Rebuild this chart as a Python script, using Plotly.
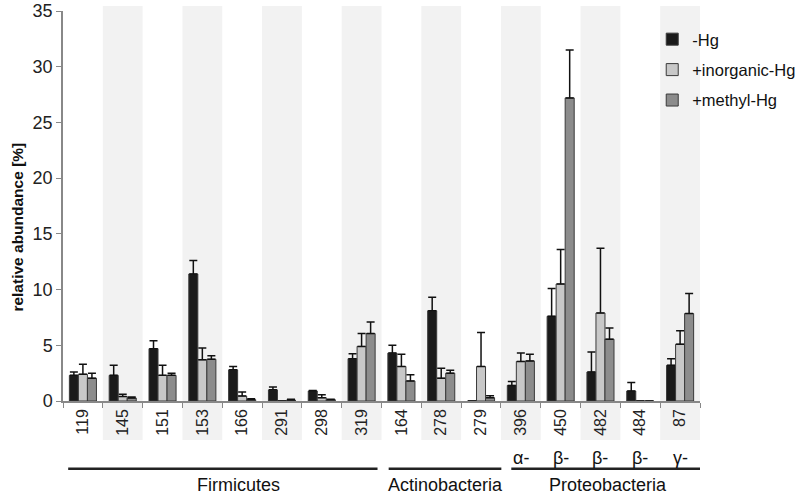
import plotly.graph_objects as go

categories = ["119", "145", "151", "153", "166", "291", "298", "319",
              "164", "278", "279", "396", "450", "482", "484", "87"]
no_hg = [2.3, 2.3, 4.7, 11.4, 2.8, 1.0, 0.9, 3.8, 4.3, 8.1, 0, 1.4, 7.6, 2.6, 0.9, 3.2]
no_hg_err = [0.3, 0.9, 0.7, 1.2, 0.3, 0.25, 0.05, 0.45, 0.7, 1.2, None, 0.35, 2.5, 1.8, 0.75, 0.6]
inorg = [2.4, 0.4, 2.3, 3.7, 0.45, 0, 0.3, 4.9, 3.1, 2.05, 3.1, 3.55, 10.5, 7.9, 0, 5.1]
inorg_err = [0.9, 0.2, 0.9, 1.05, 0.35, None, 0.25, 1.15, 1.1, 0.9, 3.05, 0.75, 3.1, 5.8, None, 1.2]
methyl = [2.05, 0.27, 2.3, 3.75, 0.12, 0.09, 0.12, 6.05, 1.8, 2.5, 0.3, 3.6, 27.2, 5.55, 0, 7.85]
methyl_err = [0.45, 0.08, 0.2, 0.3, 0.08, 0.06, 0.03, 1.05, 0.55, 0.25, 0.18, 0.6, 4.3, 1.0, None, 1.8]

star_cats = ["145", "153", "166", "291", "278", "450"]
star_vals = [3.8, 13.3, 4.6, 2.1, 10.7, 32.7]

shaded_idx = [1, 3, 5, 7, 9, 11, 13, 15]

greek_labels = ["α-", "β-", "β-", "β-", "γ-"]
greek_cats = [11, 12, 13, 14, 15]

groups = ["Firmicutes", "Actinobacteria", "Proteobacteria"]
group_spans = [(-0.37, 7.40), (7.68, 10.51), (10.76, 15.5)]
group_label_x = [3.9, 9.1, 13.2]

y_title = "relative abundance [%]"

FONT = "Liberation Sans, Arial, Helvetica, sans-serif"

fig = go.Figure()
series = [
    ("-Hg", no_hg, no_hg_err, "#1a1a1a"),
    ("+inorganic-Hg", inorg, inorg_err, "#c8c8c8"),
    ("+methyl-Hg", methyl, methyl_err, "#8c8c8c"),
]
for i, (name, vals, errs, col) in enumerate(series):
    fig.add_trace(go.Bar(
        x=categories, y=vals, name=name,
        marker=dict(color=col, line=dict(color="#3a3a3a", width=1)),
        error_y=dict(type="data", array=errs, symmetric=False,
                     arrayminus=[0] * len(errs), color="#111111",
                     thickness=1.5, width=4),
        legendgroup=name,
    ))

shapes = []
for k in shaded_idx:
    shapes.append(dict(type="rect", xref="x", yref="paper",
                       x0=k - 0.5, x1=k + 0.5, y0=-0.1, y1=1.013,
                       fillcolor="#f2f2f2", line=dict(width=0), layer="below"))
for (a, b) in group_spans:
    shapes.append(dict(type="line", xref="x", yref="paper",
                       x0=a, x1=b, y0=-0.174, y1=-0.174,
                       line=dict(color="#222222", width=2.5)))

annotations = []
for c, v in zip(star_cats, star_vals):
    annotations.append(dict(x=c, y=v, xref="x", yref="y", text="*",
                            showarrow=False, yanchor="middle", yshift=-4,
                            font=dict(family=FONT, size=18, color="#222")))
for lab, c in zip(greek_labels, greek_cats):
    annotations.append(dict(x=c, y=-0.146, xref="x", yref="paper", text=lab,
                            showarrow=False, yanchor="middle",
                            font=dict(family=FONT, size=18, color="#111")))
for lab, gx in zip(groups, group_label_x):
    annotations.append(dict(x=gx, y=-0.215, xref="x", yref="paper", text=lab,
                            showarrow=False, yanchor="middle",
                            font=dict(family=FONT, size=18, color="#111")))
annotations.append(dict(x=-0.072, y=0.445, xref="paper", yref="paper",
                        text="<b>" + y_title + "</b>", textangle=-90,
                        showarrow=False, xanchor="center", yanchor="middle",
                        font=dict(family=FONT, size=15.5, color="#111")))

fig.update_layout(
    width=797, height=499,
    margin=dict(l=63, r=97, t=11, b=98, autoexpand=False),
    paper_bgcolor="white", plot_bgcolor="rgba(0,0,0,0)",
    barmode="group", bargap=0.32, bargroupgap=0,
    font=dict(family=FONT, size=16, color="#222"),
    showlegend=True,
    legend=dict(x=0.925, y=0.972, xanchor="left", yanchor="top",
                font=dict(family=FONT, size=16.5, color="#111"),
                traceorder="grouped", tracegroupgap=6,
                bgcolor="rgba(0,0,0,0)", itemwidth=30),
    shapes=shapes, annotations=annotations,
    xaxis=dict(type="category", range=[-0.5, 15.5], showgrid=False,
               automargin=False,
               showline=True, linecolor="#888", linewidth=1.5,
               ticks="outside", tickson="boundaries", ticklen=5,
               tickcolor="#888", tickangle=-90,
               tickfont=dict(family=FONT, size=16, color="#222")),
    yaxis=dict(range=[0, 35], dtick=5, showgrid=False, zeroline=False,
               automargin=False,
               showline=True, linecolor="#888", linewidth=1.5,
               ticks="outside", ticklen=5, tickcolor="#888",
               tickfont=dict(family=FONT, size=18, color="#222")),
)

# remove the browser's default 8px body margin so the figure fills the window
fig.write_html("out.html",
               config={"displayModeBar": False},
               post_script="document.body.style.margin='0px';"
                           "document.body.style.overflow='hidden';")
